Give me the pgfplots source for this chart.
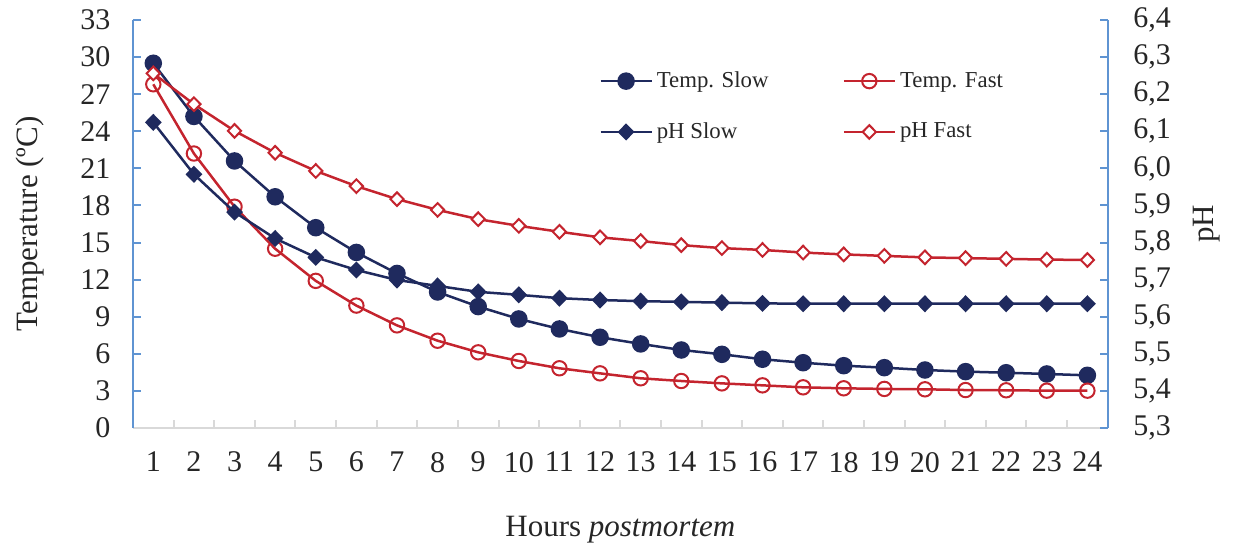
\documentclass[border=0pt]{standalone}
\usepackage{pgfplots}
\usepackage{pgfplotstable}
\pgfplotsset{compat=1.18}
\usepackage{fontspec}
\setmainfont{Liberation Serif}
\definecolor{navy}{HTML}{1F2A5E}
\definecolor{myred}{HTML}{C4242E}
\definecolor{axblue}{HTML}{5F94D2}
\definecolor{axgray}{HTML}{D9D9D9}
\definecolor{txt}{HTML}{262626}

\pgfplotstableread{
h ts tf ps pf
1 29.5 27.8 6.124 6.256
2 25.2 22.2 5.984 6.173
3 21.6 17.9 5.882 6.101
4 18.7 14.5 5.811 6.042
5 16.2 11.9 5.760 5.993
6 14.2 9.9 5.726 5.952
7 12.5 8.3 5.699 5.917
8 11.0 7.06 5.683 5.888
9 9.82 6.12 5.667 5.863
10 8.82 5.42 5.659 5.845
11 8.01 4.83 5.650 5.829
12 7.34 4.42 5.645 5.814
13 6.80 4.02 5.642 5.804
14 6.31 3.80 5.640 5.793
15 5.96 3.61 5.638 5.785
16 5.56 3.45 5.636 5.780
17 5.28 3.29 5.635 5.773
18 5.04 3.21 5.635 5.768
19 4.88 3.16 5.635 5.764
20 4.69 3.13 5.635 5.760
21 4.56 3.07 5.635 5.758
22 4.47 3.05 5.635 5.756
23 4.37 3.02 5.635 5.754
24 4.26 3.02 5.635 5.753
}\data

\begin{document}
\begin{tikzpicture}
\pgfplotsset{
  common/.style={
    scale only axis, width=487.35pt, height=204pt,
    xmin=0.5, xmax=24.5,
    /pgf/number format/assume math mode=true,
    tick label style={font=\fontsize{15}{17}\selectfont, text=txt},
    label style={font=\fontsize{15.5}{18}\selectfont, text=txt},
    tick align=inside,
    major tick length=4pt, minor tick length=4pt,
  },
  tslow/.style={navy, line width=1.25pt, mark=*, mark size=3.75pt, mark options={solid, fill=navy}},
  tfast/.style={myred, line width=1.25pt, mark=o, mark size=3.6pt, mark options={solid, fill=white, line width=1pt}},
  pslow/.style={navy, line width=1.25pt, mark=diamond*, mark size=3.4pt, mark options={solid, fill=navy, xscale=1.3}},
  pfast/.style={myred, line width=1.25pt, mark=diamond*, mark size=3.4pt, mark options={solid, fill=white, line width=1pt, xscale=1.3}},
}
\begin{axis}[common,
  axis x line*=bottom, axis y line*=left,
  x axis line style={axgray, line width=1pt},
  y axis line style={axblue, line width=1pt},
  ymin=0, ymax=33, ytick={0,3,...,33},
  ytick style={axblue, line width=1pt},
  yticklabel style={xshift=-7.8pt},
  xtick={1,...,24},
  minor xtick={0.5,1.5,...,24.5},
  major x tick style={draw=none},
  minor x tick style={axgray, line width=1pt},
  xticklabel style={yshift=-8.5pt},
  ylabel={Temperature (ºC)},
  ylabel style={at={(axis description cs:-0.1057,0.5)}, anchor=center},
  xlabel={Hours \textit{postmortem}},
  xlabel style={at={(axis description cs:0.5,0)}, anchor=center, yshift=-51pt},
]
\addplot[tslow] table[x=h,y=ts]{\data};
\addplot[tfast] table[x=h,y=tf]{\data};
\end{axis}
\begin{axis}[common,
  axis y line*=right, axis x line=none,
  y axis line style={axblue, line width=1pt},
  ymin=5.3, ymax=6.4,
  ytick={5.3,5.4,5.5,5.6,5.7,5.8,5.9,6.0,6.1,6.2,6.3,6.4},
  ytick style={axblue, line width=1pt},
  yticklabel style={xshift=9.3pt, /pgf/number format/.cd, fixed, fixed zerofill, precision=1, use comma},
  ylabel={pH},
  ylabel style={at={(axis description cs:1.1016,0.5)}, anchor=center},
  legend columns=2,
  legend cell align=left,
  legend style={at={(0.478,0.884)}, anchor=north west, draw=none, fill=none, inner sep=0pt,
    font=\fontsize{11.4}{13}\selectfont, text=txt, row sep=12pt,
    /tikz/every even column/.append style={column sep=35pt}},
  legend image code/.code={\draw[mark repeat=2, mark phase=2] plot coordinates {(0pt,0pt) (12.75pt,0pt) (25.5pt,0pt)};},
]
\addlegendimage{tslow}
\addlegendentry{Temp. Slow}
\addlegendimage{tfast}
\addlegendentry{Temp. Fast}
\addplot[pslow] table[x=h,y=ps]{\data};
\addlegendentry{pH Slow}
\addplot[pfast] table[x=h,y=pf]{\data};
\addlegendentry{pH Fast}
\end{axis}
\pgfresetboundingbox
\path[use as bounding box] (-66.5pt,-63.5pt) rectangle (552pt,214pt);
\end{tikzpicture}
\end{document}
